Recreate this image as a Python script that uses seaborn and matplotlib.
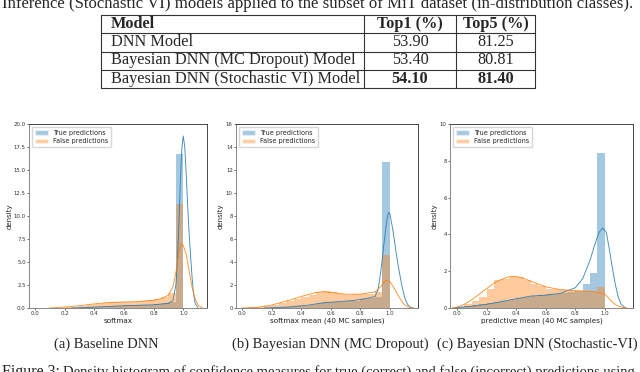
import numpy as np
import pandas as pd
import matplotlib
matplotlib.use("Agg")
import matplotlib.pyplot as plt
import seaborn as sns
from matplotlib.lines import Line2D
from matplotlib.patches import Patch
from matplotlib.ticker import FormatStrFormatter

sns.set_style("ticks")
plt.rcParams["font.family"] = ["DejaVu Sans"]
SERIF = ["Liberation Serif", "DejaVu Serif"]

# ---------------- data ----------------
caption_top = "Inference (Stochastic VI) models applied to the subset of MiT dataset (in-distribution classes)."
table_header = ["Model", "Top1 (%)", "Top5 (%)"]
table_models = ["DNN Model", "Bayesian DNN (MC Dropout) Model", "Bayesian DNN (Stochastic VI) Model"]
table_top1 = ["53.90", "53.40", "54.10"]
table_top5 = ["81.25", "80.81", "81.40"]

bin_edges = [0.00, 0.05, 0.10, 0.15, 0.20, 0.25, 0.30, 0.35, 0.40, 0.45, 0.50,
             0.55, 0.60, 0.65, 0.70, 0.75, 0.80, 0.85, 0.90, 0.95, 1.00]

# (a) Baseline DNN
true_a = [0, 0, 0, 0, 0, 0, 0.05, 0.08, 0.1, 0.15, 0.2, 0.25, 0.28, 0.3, 0.32, 0.35, 0.4, 0.5, 0.7, 16.7]
false_a = [0, 0, 0, 0.05, 0.1, 0.15, 0.2, 0.3, 0.45, 0.55, 0.6, 0.65, 0.7, 0.7, 0.8, 0.85, 0.95, 1.15, 1.6, 11.3]
kde_true_a_x = [0.25, 0.4, 0.6, 0.8, 0.9, 0.93, 0.95, 0.96, 0.97, 0.98, 0.99, 1.0, 1.01, 1.02, 1.03, 1.04, 1.05, 1.06, 1.07, 1.08, 1.10]
kde_true_a_y = [0, 0.1, 0.25, 0.35, 0.5, 0.8, 2.5, 5, 9, 13.5, 17.3, 18.7, 17.5, 14.5, 11, 8, 5.5, 3.2, 1.5, 0.5, 0]
kde_false_a_x = [0.1, 0.2, 0.3, 0.4, 0.5, 0.6, 0.7, 0.8, 0.85, 0.9, 0.93, 0.95, 0.97, 0.985, 1.0, 1.02, 1.04, 1.06, 1.08, 1.10, 1.13]
kde_false_a_y = [0, 0.1, 0.25, 0.45, 0.6, 0.65, 0.7, 0.85, 1.0, 1.4, 2.3, 3.8, 6.0, 7.0, 6.8, 5.8, 4.0, 2.2, 1.0, 0.3, 0]

# (b) Bayesian DNN (MC Dropout)
true_b = [0, 0, 0, 0, 0.02, 0.05, 0.1, 0.15, 0.2, 0.3, 0.4, 0.5, 0.5, 0.55, 0.6, 0.65, 0.75, 0.85, 1.0, 12.7]
false_b = [0, 0.05, 0.1, 0.2, 0.3, 0.45, 0.6, 0.8, 0.95, 1.1, 1.35, 1.45, 1.4, 1.2, 1.15, 1.2, 1.2, 1.25, 1.35, 4.6]
kde_true_b_x = [0.15, 0.3, 0.45, 0.55, 0.65, 0.75, 0.85, 0.9, 0.92, 0.94, 0.96, 0.98, 0.99, 1.0, 1.02, 1.04, 1.06, 1.08, 1.10, 1.12, 1.14, 1.16]
kde_true_b_y = [0, 0.08, 0.25, 0.45, 0.55, 0.65, 0.85, 1.0, 1.6, 3.3, 5.6, 7.7, 8.3, 8.2, 6.8, 5.0, 3.4, 2.0, 0.9, 0.3, 0.05, 0]
kde_false_b_x = [0.0, 0.1, 0.2, 0.3, 0.4, 0.5, 0.55, 0.6, 0.7, 0.8, 0.9, 0.94, 0.97, 1.0, 1.03, 1.06, 1.09, 1.12, 1.15]
kde_false_b_y = [0.0, 0.05, 0.25, 0.6, 1.0, 1.35, 1.42, 1.35, 1.2, 1.2, 1.4, 1.9, 2.4, 2.3, 1.7, 1.0, 0.4, 0.1, 0]

# (c) Bayesian DNN (Stochastic-VI)
true_c = [0.05, 0.1, 0.15, 0.2, 0.25, 0.3, 0.4, 0.45, 0.55, 0.6, 0.65, 0.7, 0.75, 0.75, 0.8, 0.85, 0.95, 1.3, 1.9, 8.4]
false_c = [0.05, 0.2, 0.4, 0.6, 1.05, 1.5, 1.6, 1.7, 1.7, 1.5, 1.3, 1.2, 1.05, 1.05, 1.0, 1.0, 0.95, 0.95, 0.95, 1.15]
kde_true_c_x = [-0.03, 0.0, 0.1, 0.2, 0.3, 0.4, 0.5, 0.6, 0.7, 0.8, 0.85, 0.9, 0.93, 0.96, 0.985, 1.01, 1.03, 1.05, 1.07, 1.09, 1.11, 1.14]
kde_true_c_y = [0, 0.03, 0.1, 0.2, 0.35, 0.5, 0.65, 0.7, 0.8, 1.1, 1.6, 2.6, 3.4, 4.1, 4.35, 4.1, 3.2, 2.2, 1.3, 0.6, 0.2, 0]
kde_false_c_x = [-0.03, 0.0, 0.05, 0.1, 0.15, 0.2, 0.25, 0.3, 0.35, 0.4, 0.45, 0.5, 0.55, 0.6, 0.7, 0.8, 0.9, 0.95, 1.0, 1.03, 1.06, 1.09, 1.12, 1.15]
kde_false_c_y = [0, 0.05, 0.2, 0.45, 0.75, 1.05, 1.35, 1.55, 1.7, 1.72, 1.62, 1.45, 1.3, 1.15, 1.0, 0.95, 0.9, 0.85, 0.75, 0.5, 0.25, 0.1, 0.03, 0]

x_ticks = [0.0, 0.2, 0.4, 0.6, 0.8, 1.0]
y_ticks_a = [0.0, 2.5, 5.0, 7.5, 10.0, 12.5, 15.0, 17.5, 20.0]
y_ticks_b = [0, 2, 4, 6, 8, 10, 12, 14, 16]
y_ticks_c = [0, 2, 4, 6, 8, 10]
x_labels = ["softmax", "softmax mean (40 MC samples)", "predictive mean (40 MC samples)"]
sub_captions = ["(a) Baseline DNN", "(b) Bayesian DNN (MC Dropout)", "(c) Bayesian DNN (Stochastic-VI)"]
legend_labels = ["True predictions", "False predictions"]
fig_caption_head = "Figure 3:"
fig_caption_tail = "Density histogram of confidence measures for true (correct) and false (incorrect) predictions using"

# ---------------- layout ----------------
W, H = 640, 372
fig = plt.figure(figsize=(6.4, 3.72), dpi=100)
renderer = fig.canvas.get_renderer()
BLUE = "#1f77b4"
ORANGE = "#ff7f0e"


def fx(px):
    return px / W


def fy(py):
    return 1 - py / H


def fit_size(s, target_w, weight="normal", family=SERIF):
    t = fig.text(0, 0, s, fontsize=10, weight=weight, family=family)
    w = t.get_window_extent(renderer).width
    t.remove()
    return 10 * target_w / w


# top caption line (partly outside the page crop, as in the reference)
sz = fit_size(caption_top, 632)
fig.text(fx(2), fy(8.5), caption_top, fontsize=sz, family=SERIF, ha="left", va="baseline")

# table
tsz = fit_size(table_models[2], 249)
col_x = [101, 364, 456, 535]
row_y = [15, 33.3, 51.7, 70, 88.3]
for yy in row_y:
    fig.add_artist(Line2D([fx(col_x[0]), fx(col_x[-1])], [fy(yy), fy(yy)], color="#333333", lw=0.8))
for xx in col_x:
    fig.add_artist(Line2D([fx(xx), fx(xx)], [fy(row_y[0]), fy(row_y[-1])], color="#333333", lw=0.8))
c1 = (col_x[1] + col_x[2]) / 2
c2 = (col_x[2] + col_x[3]) / 2
base_off = 5.5
fig.text(fx(111), fy(row_y[1] - base_off), table_header[0], fontsize=tsz, family=SERIF, weight="bold", va="baseline")
fig.text(fx(c1), fy(row_y[1] - base_off), table_header[1], fontsize=tsz, family=SERIF, weight="bold", va="baseline", ha="center")
fig.text(fx(c2), fy(row_y[1] - base_off), table_header[2], fontsize=tsz, family=SERIF, weight="bold", va="baseline", ha="center")
for i in range(3):
    yb = fy(row_y[i + 2] - base_off)
    wt = "bold" if i == 2 else "normal"
    fig.text(fx(111), yb, table_models[i], fontsize=tsz, family=SERIF, va="baseline")
    fig.text(fx(c1), yb, table_top1[i], fontsize=tsz, family=SERIF, va="baseline", ha="center", weight=wt)
    fig.text(fx(c2), yb, table_top5[i], fontsize=tsz, family=SERIF, va="baseline", ha="center", weight=wt)

# panels
axes_px = [(29, 207), (236, 418), (450, 633)]
ylabel_px = [10, 221, 435]
xlims = [(-0.04, 1.16), (-0.04, 1.19), (-0.047, 1.19)]
ylims = [(0, 20), (0, 16), (0, 10)]
ytick_sets = [y_ticks_a, y_ticks_b, y_ticks_c]
yfmts = ["%.1f", "%d", "%d"]
top_px, bot_px = 124, 308
data = [
    (true_a, false_a, kde_true_a_x, kde_true_a_y, kde_false_a_x, kde_false_a_y),
    (true_b, false_b, kde_true_b_x, kde_true_b_y, kde_false_b_x, kde_false_b_y),
    (true_c, false_c, kde_true_c_x, kde_true_c_y, kde_false_c_x, kde_false_c_y),
]
centers = [(a + b) / 2 for a, b in zip(bin_edges[:-1], bin_edges[1:])]

for k in range(3):
    l, r = axes_px[k]
    ax = fig.add_axes([fx(l), fy(bot_px), (r - l) / W, (bot_px - top_px) / H])
    th, fh, ktx, kty, kfx, kfy = data[k]
    sns.histplot(x=centers, weights=th, bins=bin_edges, ax=ax, color=BLUE, alpha=0.4,
                 linewidth=0, edgecolor="none", stat="count")
    sns.lineplot(x=ktx, y=kty, ax=ax, color=BLUE, lw=0.65, alpha=0.85, estimator=None)
    sns.histplot(x=centers, weights=fh, bins=bin_edges, ax=ax, color=ORANGE, alpha=0.4,
                 linewidth=0, edgecolor="none", stat="count")
    sns.lineplot(x=kfx, y=kfy, ax=ax, color=ORANGE, lw=0.65, alpha=0.85, estimator=None)
    ax.set_xlim(*xlims[k])
    ax.set_ylim(*ylims[k])
    ax.set_xticks(x_ticks)
    ax.xaxis.set_major_formatter(FormatStrFormatter("%.1f"))
    ax.set_yticks(ytick_sets[k])
    ax.yaxis.set_major_formatter(FormatStrFormatter(yfmts[k]))
    ax.tick_params(labelsize=3.9, length=1.5, width=0.5, pad=0.8, colors="#333333")
    for side, sp in ax.spines.items():
        sp.set_linewidth(0.7)
        sp.set_color("#444444" if side in ("top", "right") else "#888888")
    ax.set_xlabel(x_labels[k], fontsize=5.2, color="#222222")
    ax.set_ylabel("density", fontsize=5.0, color="#222222")
    ax.xaxis.set_label_coords(0.5, -(321 - bot_px) / (bot_px - top_px))
    ax.xaxis.label.set_va("center")
    ax.yaxis.set_label_coords((ylabel_px[k] - l) / (r - l), 0.5)
    ax.yaxis.label.set_va("center")
    handles = [Patch(facecolor=BLUE, alpha=0.4, label=legend_labels[0]),
               Patch(facecolor=ORANGE, alpha=0.4, label=legend_labels[1])]
    ax.legend(handles=handles, loc="upper left", fontsize=4.7, frameon=True, framealpha=0.8,
              edgecolor="0.8", borderpad=0.45, labelspacing=0.45, handlelength=2.0,
              handleheight=0.7, borderaxespad=0.4, fancybox=True)

# sub captions
ssz = fit_size(sub_captions[0], 105)
for cx, s in zip([106, 330, 537], sub_captions):
    fig.text(fx(cx), fy(347.5), s, fontsize=ssz, family=SERIF, ha="center", va="baseline")

# figure caption (partly outside the page crop, as in the reference)
hsz = fit_size(fig_caption_head, 58)
fig.text(fx(2), fy(375.5), fig_caption_head, fontsize=hsz, family=SERIF, va="baseline")
csz = fit_size(fig_caption_tail, 575)
fig.text(fx(63), fy(375.5), fig_caption_tail, fontsize=csz, family=SERIF, va="baseline")

fig.savefig("out.png", dpi=100)
